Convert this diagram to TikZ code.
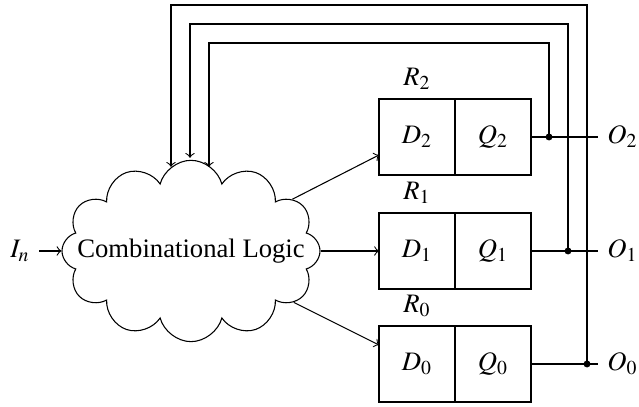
\documentclass[tikz,border=0pt]{standalone}
\usepackage{mathptmx}
\usepackage[no-math]{fontspec}
\setmainfont{Liberation Serif}
\usetikzlibrary{shapes.symbols,calc}
\begin{document}
\begin{tikzpicture}[x=0.375pt,y=-0.375pt,>=to,
  half/.style={draw, minimum width=28.5pt, minimum height=28.5pt, inner sep=0pt, outer sep=0pt},
  dot/.style={circle, fill, inner sep=0pt, minimum size=2.6pt},
  logic/.style={cloud, cloud puffs=12, cloud ignores aspect, draw, minimum width=96.75pt, minimum height=68pt, inner sep=0pt}]
\useasboundingbox (0,0) rectangle (639,407);
\node[logic] (cl) at (191,251) {\makebox[0pt]{Combinational Logic}};
\node (in) at (20,251) {$I_n$};
\draw[->] (in) -- (cl);
% registers
\node[half] (d2) at (417,137) {$D_2$};
\node[half, anchor=west] (q2) at (d2.east) {$Q_2$};
\node[above] (r2) at (d2.north) {$R_2$};
\node[half] (d1) at (417,251) {$D_1$};
\node[half, anchor=west] (q1) at (d1.east) {$Q_1$};
\node[above] (r1) at (d1.north) {$R_1$};
\node[half] (d0) at (417,364) {$D_0$};
\node[half, anchor=west] (q0) at (d0.east) {$Q_0$};
\node[above] (r0) at (d0.north) {$R_0$};
% inputs
\coordinate (t2) at ($(d2.west)+(0,18)$);
\coordinate (t0) at ($(d0.west)+(0,-19)$);
\draw[->] (cl) -- (t2);
\draw[->] (cl) -- (d1);
\draw[->] (cl) -- (t0);
% outputs
\node[dot] (j2) at (549,137) {};
\node[dot] (j1) at (568,251) {};
\node[dot] (j0) at (587,364) {};
\node[anchor=west] (o2) at (598,137) {$O_2$};
\node[anchor=west] (o1) at (598,251) {$O_1$};
\node[anchor=west] (o0) at (598,364) {$O_0$};
\draw (q2) -- (o2);
\draw (q1) -- (o1);
\draw (q0) -- (o0);
% feedback
\coordinate (h2) at (0,43);
\coordinate (h1) at (0,24);
\coordinate (h0) at (0,5);
\coordinate (a2) at ($(cl.north)+(18,7)$);
\coordinate (a1) at ($(cl.north)+(-1,-2)$);
\coordinate (a0) at ($(cl.north)+(-20,7)$);
\draw[->] (j2.center) -- (j2 |- h2) -| (a2);
\draw[->] (j1.center) -- (j1 |- h1) -| (a1);
\draw[->] (j0.center) -- (j0 |- h0) -| (a0);
\end{tikzpicture}
\end{document}
